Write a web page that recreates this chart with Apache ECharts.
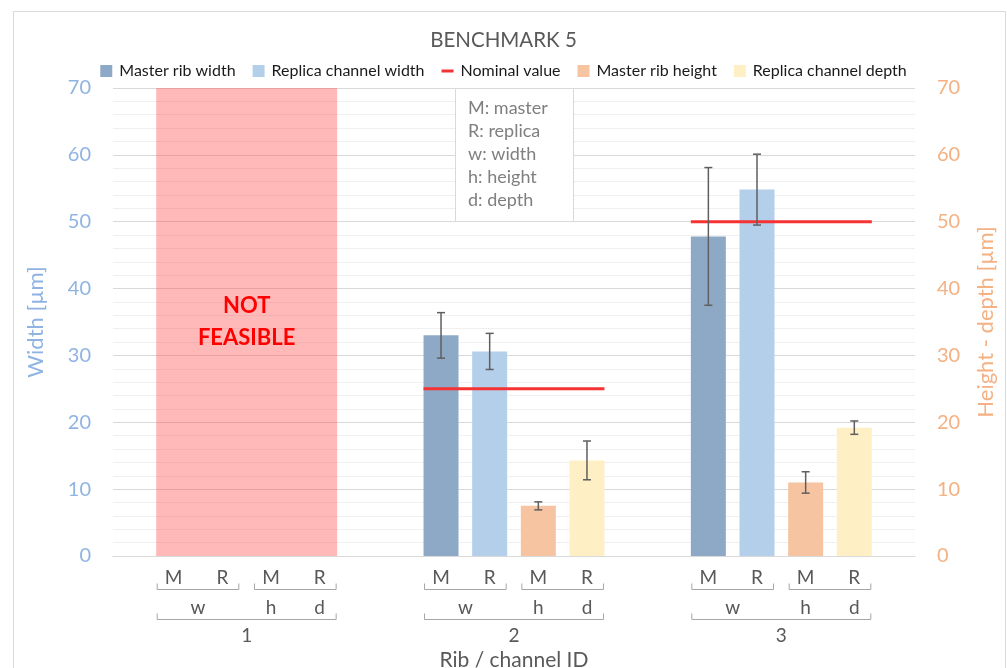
<!DOCTYPE html>
<html>
<head>
<meta charset="utf-8">
<script src="https://cdn.jsdelivr.net/npm/echarts@6/dist/echarts.min.js"></script>
<style>
html,body{margin:0;padding:0;background:#fff;}
#chart{width:1007px;height:668px;}
</style>
</head>
<body>
<div id="chart"></div>
<script>
// ---------------- data ----------------
const chartTitle = 'BENCHMARK 5';
const ribIds = ['1', '2', '3'];
const seriesNames = ['Master rib width', 'Replica channel width', 'Master rib height', 'Replica channel depth'];
const nominalName = 'Nominal value';
const masterWidth    = [null, 33.0, 47.8];
const replicaWidth   = [null, 30.6, 54.8];
const masterHeight   = [null, 7.5, 11.0];
const replicaDepth   = [null, 14.3, 19.2];
const masterWidthErr  = [null, 3.4, 10.3];
const replicaWidthErr = [null, 2.7, 5.3];
const masterHeightErr = [null, 0.6, 1.6];
const replicaDepthErr = [null, 2.9, 1.0];
const nominalWidth   = [null, 25, 50];
const notFeasibleIds = ['1'];
const notFeasibleText = 'NOT\nFEASIBLE';
const barLetters = ['M', 'R', 'M', 'R'];
const propertyLetters = ['w', 'h', 'd'];
const propertySpans = [[0, 1], [2, 2], [3, 3]];
const letterPairs = [[0, 1], [2, 3]];
const notes = ['M: master', 'R: replica', 'w: width', 'h: height', 'd: depth'];
const xAxisName = 'Rib / channel ID';
const leftAxisName = 'Width [µm]';
const rightAxisName = 'Height - depth [µm]';
const yMin = 0, yMax = 70, yInterval = 10;

// ---------------- style constants ----------------
const FONT = 'Lato';
const BAR_W = 35;
const BAR_GAP = 0.39;
const PITCH = BAR_W * (1 + BAR_GAP);
const HALF_SPAN = 1.5 * PITCH + BAR_W / 2;
const colors = ['#8EA9C6', '#B4CFEA', '#F6C4A0', '#FFEFC5'];
const nominalColor = '#F53333';
const labelColor = '#595959';
const bracketColor = '#A6A6A6';
const leftColor = '#8FB4E3';
const rightColor = '#F4B183';

const valueArrays = [masterWidth, replicaWidth, masterHeight, replicaDepth];
const errArrays = [masterWidthErr, replicaWidthErr, masterHeightErr, replicaDepthErr];

const errData = [];
valueArrays.forEach((arr, b) => {
  arr.forEach((v, c) => {
    if (v != null) errData.push([c, b, v, errArrays[b][c]]);
  });
});
const nominalData = [];
nominalWidth.forEach((v, c) => { if (v != null) nominalData.push([c, v]); });
const notFeasibleData = notFeasibleIds.map(id => [ribIds.indexOf(id), yMax]);
const axisDecoData = ribIds.map((id, c) => [c, 0]);

const barX = (cx, b) => cx + (b - 1.5) * PITCH;

const chart = echarts.init(document.getElementById('chart'));

const barSeries = seriesNames.map((name, i) => ({
  name: name,
  type: 'bar',
  yAxisIndex: i < 2 ? 0 : 1,
  data: valueArrays[i],
  barWidth: BAR_W,
  barGap: (BAR_GAP * 100) + '%',
  itemStyle: { color: colors[i] },
  z: 2
}));

const option = {
  animation: false,
  backgroundColor: '#fff',
  title: {
    text: chartTitle,
    left: 'center',
    top: 25,
    textStyle: { fontFamily: FONT, fontSize: 20.5, fontWeight: 'normal', color: labelColor }
  },
  legend: {
    top: 58,
    left: 'center',
    itemWidth: 12,
    itemHeight: 12,
    itemGap: 17,
    textStyle: { fontFamily: FONT, fontSize: 16, color: '#1a1a1a', padding: [0, 0, 0, 2] },
    data: [
      { name: seriesNames[0], icon: 'rect' },
      { name: seriesNames[1], icon: 'rect' },
      { name: nominalName, icon: 'path://M0,0L12,0L12,3L0,3Z' },
      { name: seriesNames[2], icon: 'rect' },
      { name: seriesNames[3], icon: 'rect' }
    ]
  },
  grid: { left: 113, right: 92, top: 88, bottom: 112, outerBoundsMode: 'none' },
  xAxis: {
    type: 'category',
    data: ribIds,
    axisLine: { lineStyle: { color: '#D9D9D9' } },
    axisTick: { show: false },
    axisLabel: { margin: 70, fontFamily: FONT, fontSize: 19, color: labelColor },
    name: xAxisName,
    nameLocation: 'middle',
    nameGap: 90,
    nameTextStyle: { fontFamily: FONT, fontSize: 21, color: labelColor }
  },
  yAxis: [
    {
      type: 'value', position: 'left', min: yMin, max: yMax, interval: yInterval,
      axisLine: { show: false }, axisTick: { show: false },
      axisLabel: { fontFamily: FONT, fontSize: 20, color: leftColor, margin: 22 },
      splitLine: { lineStyle: { color: '#D9D9D9' } },
      minorTick: { show: false, splitNumber: 5 },
      minorSplitLine: { show: true, lineStyle: { color: '#F0F0F0' } },
      name: leftAxisName, nameLocation: 'middle', nameGap: 66, nameRotate: 90,
      nameTextStyle: { fontFamily: FONT, fontSize: 22, color: leftColor }
    },
    {
      type: 'value', position: 'right', min: yMin, max: yMax, interval: yInterval,
      axisLine: { show: false }, axisTick: { show: false },
      axisLabel: { fontFamily: FONT, fontSize: 20, color: rightColor, margin: 22 },
      splitLine: { show: false },
      name: rightAxisName, nameLocation: 'middle', nameGap: 60, nameRotate: 90,
      nameTextStyle: { fontFamily: FONT, fontSize: 22, color: rightColor }
    }
  ],
  graphic: [
    {
      type: 'rect', left: 11, top: 9, silent: true, z: -10,
      shape: { width: 992, height: 700 },
      style: { fill: 'none', stroke: '#D9D9D9', lineWidth: 1 }
    },
    {
      type: 'rect', left: 455, top: 88, z: 100, silent: true,
      shape: { width: 118, height: 133 },
      style: { fill: '#fff', stroke: '#D9D9D9', lineWidth: 1 }
    },
    {
      type: 'text', left: 468, top: 97, z: 101, silent: true,
      style: { text: notes.join('\n'), fill: '#7F7F7F', font: '18px ' + FONT, lineHeight: 23 }
    }
  ],
  series: barSeries.concat([
    {
      name: 'notFeasible',
      type: 'custom',
      yAxisIndex: 0,
      silent: true,
      z: 3,
      encode: { x: 0, y: 1 },
      data: notFeasibleData,
      renderItem: function (params, api) {
        const top = api.coord([api.value(0), api.value(1)]);
        const bottom = api.coord([api.value(0), yMin]);
        const mid = api.coord([api.value(0), (yMin + api.value(1)) / 2]);
        return {
          type: 'group',
          children: [
            { type: 'rect',
              shape: { x: top[0] - HALF_SPAN, y: top[1], width: HALF_SPAN * 2, height: bottom[1] - top[1] },
              style: { fill: 'rgba(255,60,60,0.36)' } },
            { type: 'text', x: mid[0], y: mid[1],
              style: { text: notFeasibleText, fill: '#FF0000', font: 'bold 22px ' + FONT,
                       align: 'center', verticalAlign: 'middle', lineHeight: 32 } }
          ]
        };
      }
    },
    {
      name: nominalName,
      type: 'custom',
      yAxisIndex: 0,
      z: 4,
      itemStyle: { color: nominalColor },
      encode: { x: 0, y: 1 },
      data: nominalData,
      renderItem: function (params, api) {
        const p = api.coord([api.value(0), api.value(1)]);
        return {
          type: 'line',
          shape: { x1: p[0] - HALF_SPAN, y1: p[1], x2: p[0] + HALF_SPAN, y2: p[1] },
          style: { stroke: nominalColor, lineWidth: 3 }
        };
      }
    },
    {
      name: 'errors',
      type: 'custom',
      yAxisIndex: 0,
      z: 5,
      silent: true,
      encode: { x: 0, y: 2 },
      data: errData,
      renderItem: function (params, api) {
        const c = api.value(0), b = api.value(1), v = api.value(2), e = api.value(3);
        const x = barX(api.coord([c, v])[0], b);
        const yT = api.coord([c, v + e])[1];
        const yB = api.coord([c, v - e])[1];
        const st = { stroke: '#5F5F5F', lineWidth: 1.5 };
        return {
          type: 'group',
          children: [
            { type: 'line', shape: { x1: x, y1: yT, x2: x, y2: yB }, style: st },
            { type: 'line', shape: { x1: x - 4, y1: yT, x2: x + 4, y2: yT }, style: st },
            { type: 'line', shape: { x1: x - 4, y1: yB, x2: x + 4, y2: yB }, style: st }
          ]
        };
      }
    },
    {
      name: 'axisDeco',
      type: 'custom',
      yAxisIndex: 0,
      silent: true,
      clip: false,
      z: 5,
      encode: { x: 0, y: 1 },
      data: axisDecoData,
      renderItem: function (params, api) {
        const p = api.coord([api.value(0), api.value(1)]);
        const y0 = p[1];
        const xs = barLetters.map((l, b) => barX(p[0], b));
        const children = [];
        const txt = (t, x, y) => ({ type: 'text', x: x, y: y,
          style: { text: t, fill: labelColor, font: '19px ' + FONT, align: 'center', verticalAlign: 'middle' } });
        const bracket = (x1, x2, yLine) => ({ type: 'polyline',
          shape: { points: [[x1, yLine - 6], [x1, yLine], [x2, yLine], [x2, yLine - 6]] },
          style: { stroke: bracketColor, lineWidth: 1, fill: 'none' } });
        barLetters.forEach((l, b) => children.push(txt(l, xs[b], y0 + 22)));
        letterPairs.forEach(pr => children.push(bracket(xs[pr[0]] - BAR_W / 2 + 1, xs[pr[1]] + BAR_W / 2 - 1, y0 + 33.5)));
        propertyLetters.forEach((l, k) => {
          const sp = propertySpans[k];
          children.push(txt(l, (xs[sp[0]] + xs[sp[1]]) / 2, y0 + 51.5));
        });
        children.push(bracket(xs[0] - BAR_W / 2 + 1, xs[3] + BAR_W / 2 - 1, y0 + 63.5));
        return { type: 'group', children: children };
      }
    }
  ])
};

chart.setOption(option);
</script>
</body>
</html>
